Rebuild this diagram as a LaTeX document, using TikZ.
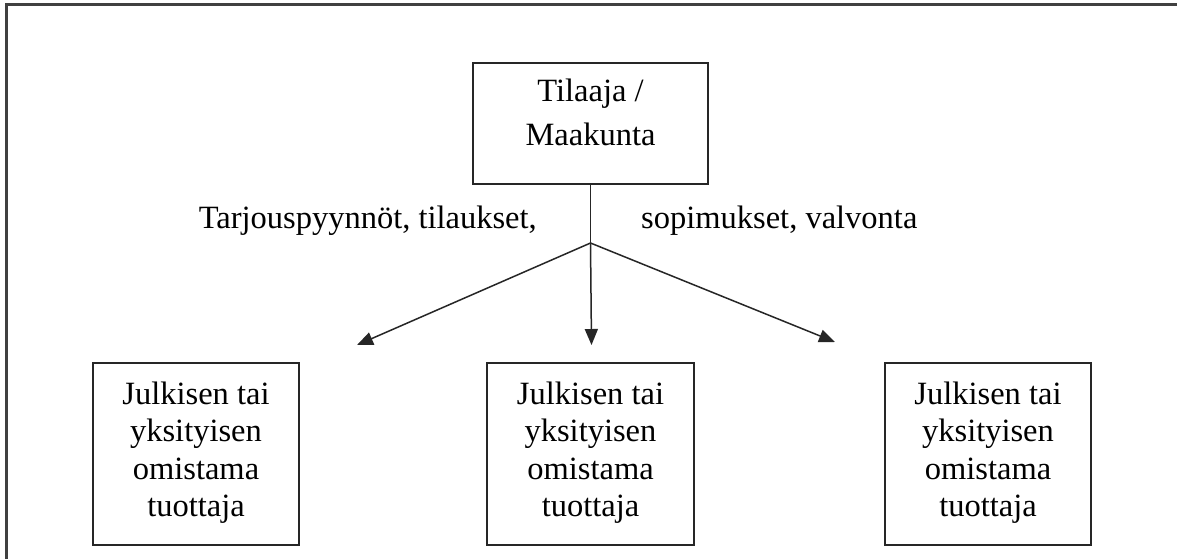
\documentclass[tikz,border=0pt]{standalone}
\usepackage{fontspec}
\setmainfont{Liberation Serif}
\usetikzlibrary{arrows.meta}
\begin{document}
\begin{tikzpicture}[x=1pt,y=-1pt,
  frame/.style={draw=black!75, line width=2.2pt},
  box/.style={draw=black!85, line width=1.8pt, rectangle, inner sep=0pt},
  txt/.style={font=\fontsize{32.5}{39.5}\selectfont, inner sep=0pt, anchor=base},
  conn/.style={draw=black!85, line width=1.5pt},
  arr/.style={conn, -{Triangle[length=16pt,width=13pt]}}]
\useasboundingbox (0,0) rectangle (1177,558);
\fill[white] (0,0) rectangle (1177,558);
\draw[frame] (6.5,570) -- (6.5,4.5) -- (1190,4.5);
% top box
\node[box, minimum width=235pt, minimum height=121pt] (top) at (590.5,123.5) {};
\node[txt] (t1) at (590.5,101) {Tilaaja /};
\node[txt] (t2) at (590.5,145) {Maakunta};
% bottom boxes
\node[box, minimum width=206pt, minimum height=182pt] (b1) at (196,454) {};
\node[box, minimum width=207pt, minimum height=182pt] (b2) at (590.5,454) {};
\node[box, minimum width=206pt, minimum height=182pt] (b3) at (988,454) {};
\foreach \b in {b1,b2,b3}{
  \node[txt] at ([yshift=50pt]\b.center) {Julkisen tai};
  \node[txt] at ([yshift=12.5pt]\b.center) {yksityisen};
  \node[txt] at ([yshift=-25pt]\b.center) {omistama};
  \node[txt] at ([yshift=-62.5pt]\b.center) {tuottaja};
}
% labels
\node[txt, anchor=base east] (l1) at (537,228) {Tarjouspyynnöt, tilaukset,};
\node[txt, anchor=base west] (l2) at (641,228) {sopimukset, valvonta};
% connectors
\coordinate (j) at (590.5,243);
\coordinate (a1) at (357,345);
\coordinate (a2) at (591.5,345);
\coordinate (a3) at (835,342);
\draw[conn] (top.south) -- (j);
\draw[arr] (j) -- (a1);
\draw[arr] (j) -- (a2);
\draw[arr] (j) -- (a3);
\end{tikzpicture}
\end{document}
